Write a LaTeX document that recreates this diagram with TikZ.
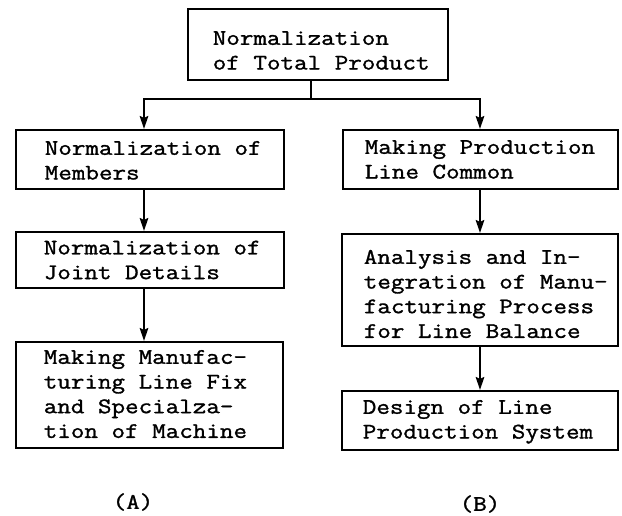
\documentclass[tikz,border=0pt]{standalone}
\usepackage{fontspec}
\setmonofont[FakeStretch=1.185,FakeBold=1.3]{Latin Modern Mono}
\usetikzlibrary{arrows.meta}
% #1 width, #2 height, #3 first baseline below top, #4 left pad, #5 lines
\newcommand\bxtxt[5]{\begin{minipage}[c][#2pt][t]{#1pt}\vspace*{\dimexpr #3pt-\ht\strutbox\relax}\leftskip=#4pt\relax\strut #5\end{minipage}}
\tikzset{
  tw/.style={font=\ttfamily\fontsize{22.2}{24.7}\selectfont},
  box/.style={tw, draw, line width=1.6pt, inner sep=0pt, anchor=north west},
  conn/.style={line width=2pt},
  arr/.style={conn, -{Stealth[length=13pt,width=8.5pt,inset=2pt]}},
  lab/.style={tw, inner sep=0pt}
}
\begin{document}
\begin{tikzpicture}[x=1pt,y=-1pt]
\useasboundingbox (0,0) rectangle (622,515);
\node[box] (top) at (187,8) {\bxtxt{260}{71}{36}{25}{Normalization\\\strut of Total Product}};
\node[box] (L1) at (15,129) {\bxtxt{268}{59}{25}{29}{Normalization of\\\strut Members}};
\node[box] (L2) at (15,231) {\bxtxt{268}{56}{22.6}{28}{Normalization of\\\strut Joint Details}};
\node[box] (L3) at (15,341) {\bxtxt{267}{106}{22}{28}{Making Manufac-\\\strut turing Line Fix\\\strut and Specialza-\\\strut tion of Machine}};
\node[box] (R1) at (342,129) {\bxtxt{275}{59}{24}{22}{Making Production\\\strut Line Common}};
\node[box] (R2) at (341,233) {\bxtxt{276}{112}{30}{22}{Analysis and In-\\\strut tegration of Manu-\\\strut facturing Process\\\strut for Line Balance}};
\node[box] (R3) at (341,390) {\bxtxt{276}{59}{23}{21}{Design of Line\\\strut Production System}};
\node[lab] (labA) at (133,502) {(A)};
\node[lab] (labB) at (480,504) {(B)};
\coordinate (j) at (311,98.5);
\coordinate (aL) at (144,0);
\coordinate (aR) at (480,0);
\draw[conn] (top.south -| j) -- (j);
\draw[arr] (j) -| (aL |- L1.north);
\draw[arr] (j) -| (aR |- R1.north);
\draw[arr] (aL |- L1.south) -- (aL |- L2.north);
\draw[arr] (aL |- L2.south) -- (aL |- L3.north);
\draw[arr] (aR |- R1.south) -- (aR |- R2.north);
\draw[arr] (aR |- R2.south) -- (aR |- R3.north);
\end{tikzpicture}
\end{document}
